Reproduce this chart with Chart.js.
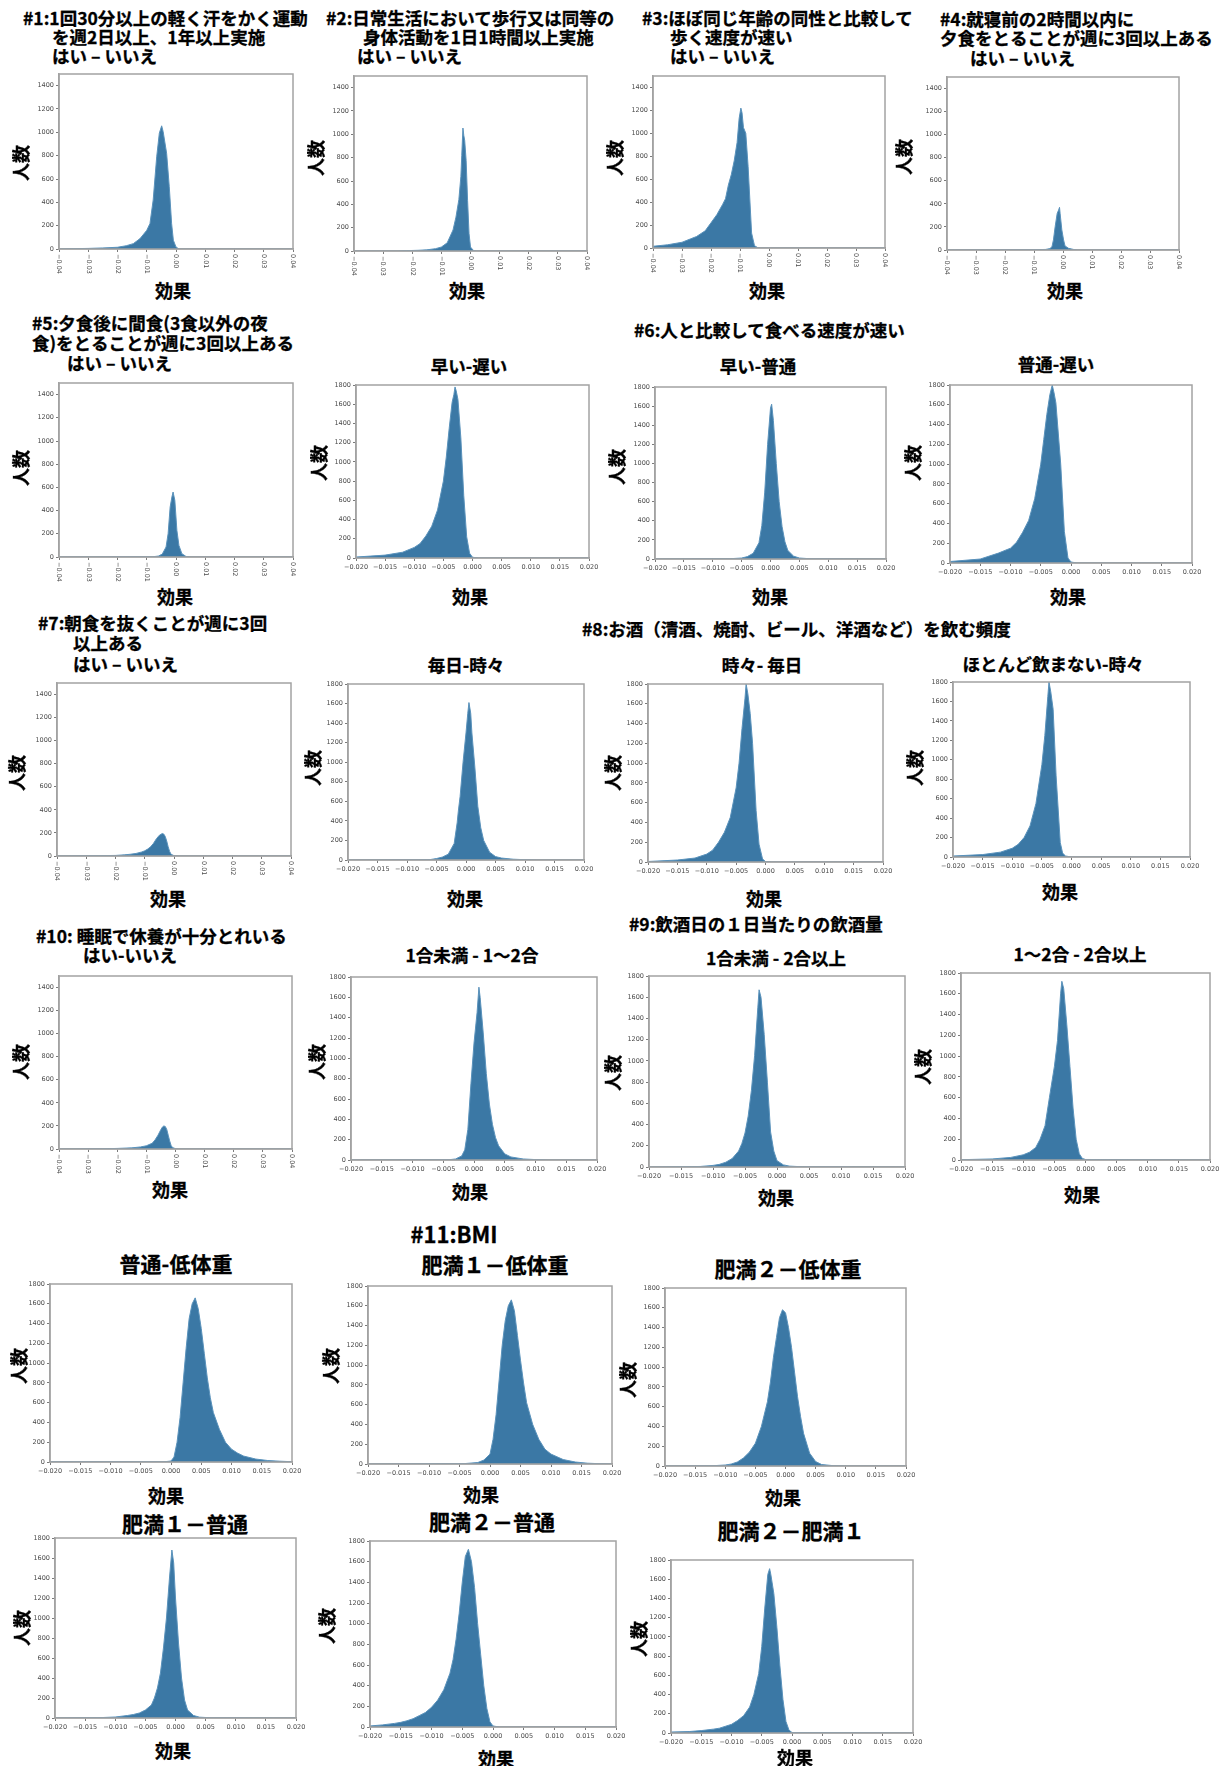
<!DOCTYPE html>
<html lang="ja">
<head>
<meta charset="utf-8">
<title>効果の分布</title>
<script src="https://cdn.jsdelivr.net/npm/chart.js@4.4.1/dist/chart.umd.min.js"></script>
<style>
  html, body { margin: 0; background: #fff; }
  #page {
    position: relative; width: 1227px; height: 1766px; overflow: hidden;
    font-family: "Noto Sans CJK JP", "Noto Sans", sans-serif; font-weight: 700; color: #000;
  }
  #page canvas { position: absolute; }
  .txt { position: absolute; white-space: nowrap; line-height: 1; -webkit-text-stroke: 0.3px #000; }
</style>
</head>
<body>
<div id="page"></div>
<script>
/* 効果（x）の目盛り */
const X_TICKS_WIDE = [-0.04, -0.03, -0.02, -0.01, 0, 0.01, 0.02, 0.03, 0.04];
const X_LABELS_WIDE = ["−0.04", "−0.03", "−0.02", "−0.01", "0.00", "0.01", "0.02", "0.03", "0.04"];
const X_TICKS_NARROW = [-0.02, -0.015, -0.01, -0.005, 0, 0.005, 0.01, 0.015, 0.02];
const X_LABELS_NARROW = ["−0.020", "−0.015", "−0.010", "−0.005", "0.000", "0.005", "0.010", "0.015", "0.020"];
/* 人数（y）の目盛り */
const Y_TICKS_1500 = [0, 200, 400, 600, 800, 1000, 1200, 1400];
const Y_TICKS_1800 = [0, 200, 400, 600, 800, 1000, 1200, 1400, 1600, 1800];

/* 各分布：効果の値と人数 */
// #1 運動習慣
const q1X = [-0.040, -0.035, -0.030, -0.025, -0.020, -0.017, -0.0146, -0.0123, -0.0100, -0.0089, -0.0078, -0.0066, -0.0057, -0.0049, -0.0044, -0.0032, -0.0023, -0.0015, -0.0009, 0.000, 0.001, 0.040];
const q1Y = [0, 3, 5, 9, 15, 28, 46, 89, 160, 218, 420, 790, 993, 1056, 1007, 820, 534, 218, 75, 17, 0, 0];
// #2 歩行
const q2X = [-0.040, -0.025, -0.022, -0.018, -0.015, -0.012, -0.010, -0.008, -0.006, -0.005, -0.004, -0.0033, -0.003, -0.0026, -0.0023, -0.002, -0.0015, -0.001, -0.0005, 0.000, 0.001, 0.002, 0.040];
const q2Y = [0, 0, 3, 6, 10, 20, 34, 70, 180, 290, 440, 640, 820, 1054, 990, 949, 777, 434, 149, 34, 5, 0, 0];
// #3 歩く速度
const q3X = [-0.040, -0.035, -0.030, -0.027, -0.025, -0.022, -0.020, -0.018, -0.016, -0.015, -0.014, -0.013, -0.012, -0.011, -0.0103, -0.0097, -0.0093, -0.0088, -0.008, -0.0072, -0.006, -0.005, -0.004, -0.003, 0.040];
const q3Y = [15, 28, 50, 80, 100, 150, 220, 290, 380, 430, 550, 640, 760, 920, 1130, 1220, 1180, 1050, 1000, 710, 130, 20, 5, 0, 0];
// #4 就寝前の夕食
const q4X = [-0.040, -0.010, -0.006, -0.0045, -0.0038, -0.0033, -0.0027, -0.002, -0.0015, -0.0012, -0.001, -0.0004, 0.0002, 0.0007, 0.0019, 0.0036, 0.005, 0.040];
const q4Y = [0, 2, 5, 12, 29, 87, 203, 318, 347, 370, 318, 174, 87, 35, 15, 5, 0, 0];
// #5 夕食後の間食
const q5X = [-0.040, -0.008, -0.006, -0.0047, -0.0034, -0.0027, -0.002, -0.0014, -0.001, -0.0004, 0.0003, 0.001, 0.002, 0.0034, 0.005, 0.040];
const q5Y = [0, 2, 8, 25, 86, 200, 431, 517, 560, 489, 230, 100, 29, 5, 0, 0];
// #6 食べる速度
const q6aX = [-0.020, -0.015, -0.012, -0.010, -0.009, -0.008, -0.007, -0.006, -0.005, -0.0045, -0.004, -0.0035, -0.0032, -0.003, -0.0028, -0.0025, -0.002, -0.0015, -0.001, -0.0005, 0.000, 0.001, 0.020];
const q6aY = [10, 30, 60, 110, 150, 230, 330, 500, 800, 1050, 1350, 1620, 1700, 1780, 1740, 1650, 1250, 650, 220, 50, 8, 0, 0];
const q6bX = [-0.020, -0.007, -0.005, -0.004, -0.003, -0.002, -0.0015, -0.001, -0.0005, 0.000, 0.0002, 0.0005, 0.001, 0.0015, 0.002, 0.0025, 0.003, 0.004, 0.005, 0.007, 0.020];
const q6bY = [0, 3, 10, 25, 60, 170, 350, 700, 1200, 1580, 1620, 1450, 1000, 600, 340, 180, 90, 30, 10, 2, 0];
const q6cX = [-0.020, -0.015, -0.012, -0.010, -0.009, -0.008, -0.007, -0.006, -0.005, -0.0045, -0.004, -0.0035, -0.0031, -0.0028, -0.0025, -0.0017, -0.0011, -0.0005, 0.000, 0.001, 0.020];
const q6cY = [15, 40, 100, 150, 210, 310, 430, 650, 1000, 1250, 1500, 1700, 1800, 1720, 1620, 1000, 320, 50, 10, 0, 0];
// #7 朝食を抜く
const q7X = [-0.040, -0.030, -0.025, -0.020, -0.017, -0.015, -0.013, -0.011, -0.010, -0.009, -0.008, -0.007, -0.006, -0.005, -0.004, -0.0035, -0.003, -0.0025, -0.002, -0.0015, -0.001, 0.000, 0.001, 0.040];
const q7Y = [0, 2, 3, 5, 10, 15, 22, 35, 45, 60, 80, 110, 150, 180, 195, 190, 170, 130, 80, 40, 15, 3, 0, 0];
// #8 飲酒頻度
const q8aX = [-0.020, -0.008, -0.006, -0.005, -0.004, -0.003, -0.002, -0.0015, -0.0013, -0.001, -0.0005, 0.000, 0.0003, 0.0005, 0.0008, 0.001, 0.0015, 0.002, 0.0025, 0.003, 0.004, 0.005, 0.006, 0.008, 0.010, 0.012, 0.020];
const q8aY = [0, 2, 5, 15, 30, 60, 170, 380, 500, 650, 1000, 1300, 1500, 1610, 1500, 1300, 950, 550, 330, 200, 80, 35, 20, 8, 3, 0, 0];
const q8bX = [-0.020, -0.015, -0.012, -0.010, -0.009, -0.008, -0.007, -0.006, -0.005, -0.0045, -0.004, -0.0035, -0.0033, -0.003, -0.0026, -0.0022, -0.0016, -0.0011, -0.0005, 0.000, 0.001, 0.020];
const q8bY = [5, 20, 40, 80, 120, 200, 300, 450, 750, 1000, 1350, 1650, 1800, 1700, 1500, 1200, 520, 180, 30, 5, 0, 0];
const q8cX = [-0.020, -0.015, -0.012, -0.010, -0.009, -0.008, -0.007, -0.006, -0.005, -0.0045, -0.004, -0.0038, -0.0035, -0.0031, -0.0026, -0.0019, -0.0015, -0.001, 0.000, 0.020];
const q8cY = [10, 25, 50, 90, 130, 200, 320, 550, 950, 1250, 1650, 1800, 1700, 1520, 835, 150, 40, 10, 0, 0];
// #10 睡眠
const q10X = [-0.040, -0.025, -0.020, -0.015, -0.012, -0.010, -0.008, -0.007, -0.006, -0.005, -0.0045, -0.004, -0.0035, -0.003, -0.0025, -0.002, -0.0015, -0.001, 0.000, 0.001, 0.040];
const q10Y = [0, 2, 5, 10, 18, 28, 50, 80, 120, 170, 190, 200, 195, 170, 120, 70, 30, 12, 3, 0, 0];
// #9 飲酒量
const q9aX = [-0.020, -0.004, -0.003, -0.002, -0.0015, -0.001, -0.0005, 0.000, 0.0005, 0.0008, 0.001, 0.0015, 0.002, 0.0025, 0.003, 0.0035, 0.004, 0.005, 0.006, 0.008, 0.010, 0.012, 0.020];
const q9aY = [0, 3, 10, 40, 100, 300, 750, 1150, 1450, 1700, 1600, 1250, 850, 550, 350, 220, 140, 60, 30, 10, 4, 0, 0];
const q9bX = [-0.020, -0.012, -0.010, -0.009, -0.008, -0.007, -0.006, -0.0055, -0.005, -0.0045, -0.004, -0.0035, -0.003, -0.0028, -0.0025, -0.002, -0.0015, -0.001, -0.0005, 0.000, 0.001, 0.002, 0.004, 0.020];
const q9bY = [0, 5, 15, 25, 45, 80, 150, 220, 320, 480, 720, 1050, 1500, 1670, 1600, 1250, 800, 330, 150, 60, 20, 8, 2, 0];
const q9cX = [-0.020, -0.015, -0.012, -0.010, -0.009, -0.008, -0.0073, -0.0065, -0.0058, -0.005, -0.0045, -0.004, -0.0038, -0.0035, -0.003, -0.0025, -0.002, -0.0015, -0.001, -0.0005, 0.000, 0.020];
const q9cY = [3, 10, 25, 50, 75, 120, 200, 330, 600, 900, 1150, 1600, 1720, 1650, 1300, 900, 500, 200, 60, 15, 5, 0];
// #11 BMI
const bmiAX = [-0.020, -0.001, 0.000, 0.0005, 0.001, 0.0015, 0.002, 0.0025, 0.003, 0.0035, 0.004, 0.0045, 0.005, 0.0055, 0.006, 0.0065, 0.007, 0.008, 0.009, 0.010, 0.011, 0.012, 0.014, 0.016, 0.018, 0.020];
const bmiAY = [3, 3, 10, 50, 200, 450, 800, 1150, 1450, 1600, 1660, 1550, 1350, 1100, 850, 650, 500, 330, 200, 130, 90, 60, 30, 15, 8, 3];
const bmiBX = [-0.020, -0.004, -0.002, -0.001, 0.000, 0.0005, 0.001, 0.0015, 0.002, 0.0025, 0.003, 0.0035, 0.004, 0.0045, 0.005, 0.0055, 0.006, 0.007, 0.008, 0.009, 0.010, 0.012, 0.014, 0.016, 0.018, 0.020];
const bmiBY = [0, 5, 15, 40, 100, 250, 500, 850, 1200, 1450, 1600, 1660, 1550, 1300, 1050, 820, 620, 400, 250, 150, 100, 45, 20, 8, 3, 1];
const bmiCX = [-0.020, -0.012, -0.010, -0.009, -0.008, -0.007, -0.006, -0.005, -0.004, -0.003, -0.0025, -0.002, -0.0015, -0.001, -0.0005, 0.000, 0.0005, 0.001, 0.0015, 0.002, 0.0025, 0.003, 0.004, 0.005, 0.006, 0.008, 0.010, 0.020];
const bmiCY = [0, 3, 10, 20, 40, 80, 140, 230, 400, 650, 850, 1100, 1300, 1500, 1580, 1550, 1400, 1200, 950, 700, 500, 330, 130, 45, 15, 3, 0, 0];
const bmiDX = [-0.020, -0.012, -0.010, -0.008, -0.007, -0.006, -0.005, -0.004, -0.0035, -0.003, -0.0025, -0.002, -0.0015, -0.001, -0.0006, -0.0003, 0.000, 0.0005, 0.001, 0.0015, 0.002, 0.003, 0.004, 0.006, 0.020];
const bmiDY = [0, 5, 10, 25, 35, 50, 80, 130, 200, 300, 450, 700, 1000, 1400, 1680, 1550, 1200, 750, 400, 180, 80, 25, 8, 2, 0];
const bmiEX = [-0.020, -0.018, -0.016, -0.015, -0.014, -0.013, -0.012, -0.011, -0.010, -0.009, -0.008, -0.007, -0.0065, -0.006, -0.0055, -0.005, -0.0045, -0.004, -0.0035, -0.003, -0.0025, -0.002, -0.0015, -0.001, -0.0005, 0.000, 0.001, 0.020];
const bmiEY = [10, 20, 35, 45, 60, 80, 110, 140, 190, 260, 360, 520, 650, 850, 1100, 1400, 1650, 1720, 1600, 1350, 1000, 700, 400, 180, 50, 10, 0, 0];
const bmiFX = [-0.020, -0.017, -0.015, -0.013, -0.012, -0.011, -0.010, -0.009, -0.008, -0.007, -0.0063, -0.0055, -0.005, -0.0045, -0.004, -0.0037, -0.0035, -0.003, -0.0025, -0.002, -0.0015, -0.001, -0.0005, 0.000, 0.020];
const bmiFY = [10, 15, 25, 40, 50, 70, 90, 130, 180, 270, 400, 620, 900, 1300, 1650, 1710, 1650, 1450, 1100, 700, 350, 120, 30, 5, 0];

/* 見た目 */
const BAR_FILL = "#3b78a5";
const BAR_EDGE = "#5a92bb";
const FRAME_COLOR = "#a3a3a3";
const TICK_TEXT = "#4a4a4a";
const TICK_MARK = "#7a7a7a";
const TICK_FONT = { family: '"DejaVu Sans", sans-serif', size: 6.5 };
const YW = 28, PT = 6, PR = 14, XH_WIDE = 26, XH_NARROW = 14;

// box = [左, 上, 右, 下] of the plot frame, xl = 「効果」, yl = 「人数」
const PANELS = [
  { x: q1X, y: q1Y, wide: true, ymax: 1500, box: [59, 74, 293, 249], xl: [173, 290], yl: [20, 163] },
  { x: q2X, y: q2Y, wide: true, ymax: 1500, box: [354, 76, 587, 251], xl: [467, 290], yl: [315, 158] },
  { x: q3X, y: q3Y, wide: true, ymax: 1500, box: [653, 76, 885, 248], xl: [767, 290], yl: [614, 158] },
  { x: q4X, y: q4Y, wide: true, ymax: 1500, box: [947, 77, 1179, 250], xl: [1065, 290], yl: [903, 157] },
  { x: q5X, y: q5Y, wide: true, ymax: 1500, box: [59, 383, 293, 557], xl: [175, 596], yl: [20, 468] },
  { x: q6aX, y: q6aY, wide: false, ymax: 1800, box: [356, 385, 589, 558], xl: [470, 596], yl: [318, 463] },
  { x: q6bX, y: q6bY, wide: false, ymax: 1800, box: [655, 387, 886, 559], xl: [770, 596], yl: [616, 467] },
  { x: q6cX, y: q6cY, wide: false, ymax: 1800, box: [950, 385, 1192, 563], xl: [1068, 596], yl: [912, 463] },
  { x: q7X, y: q7Y, wide: true, ymax: 1500, box: [57, 683, 291, 856], xl: [168, 898], yl: [16, 773] },
  { x: q8aX, y: q8aY, wide: false, ymax: 1800, box: [348, 684, 584, 860], xl: [465, 898], yl: [312, 768] },
  { x: q8bX, y: q8bY, wide: false, ymax: 1800, box: [648, 684, 883, 862], xl: [764, 898], yl: [612, 773] },
  { x: q8cX, y: q8cY, wide: false, ymax: 1800, box: [953, 682, 1190, 857], xl: [1060, 891], yl: [914, 768] },
  { x: q10X, y: q10Y, wide: true, ymax: 1500, box: [59, 976, 292, 1149], xl: [170, 1189], yl: [20, 1062] },
  { x: q9aX, y: q9aY, wide: false, ymax: 1800, box: [351, 977, 597, 1160], xl: [470, 1191], yl: [316, 1062] },
  { x: q9bX, y: q9bY, wide: false, ymax: 1800, box: [649, 976, 905, 1167], xl: [776, 1197], yl: [612, 1073] },
  { x: q9cX, y: q9cY, wide: false, ymax: 1800, box: [961, 973, 1210, 1160], xl: [1082, 1194], yl: [922, 1067] },
  { x: bmiAX, y: bmiAY, wide: false, ymax: 1800, box: [50, 1284, 292, 1462], xl: [166, 1495], yl: [18, 1366] },
  { x: bmiBX, y: bmiBY, wide: false, ymax: 1800, box: [368, 1286, 612, 1464], xl: [481, 1494], yl: [330, 1366] },
  { x: bmiCX, y: bmiCY, wide: false, ymax: 1800, box: [665, 1288, 906, 1466], xl: [783, 1497], yl: [627, 1380] },
  { x: bmiDX, y: bmiDY, wide: false, ymax: 1800, box: [55, 1538, 296, 1718], xl: [173, 1750], yl: [21, 1628] },
  { x: bmiEX, y: bmiEY, wide: false, ymax: 1800, box: [370, 1541, 616, 1727], xl: [496, 1758], yl: [326, 1626] },
  { x: bmiFX, y: bmiFY, wide: false, ymax: 1800, box: [671, 1560, 913, 1733], xl: [795, 1757], yl: [638, 1639] },
];

// [文字, x, y, サイズ, 配置]
const TITLES = [
  ["#1:1回30分以上の軽く汗をかく運動", 23, 18, 17.5, "left"],
  ["を週2日以上、1年以上実施", 52, 37, 17.5, "left"],
  ["はい – いいえ", 52, 56, 17.5, "left"],
  ["#2:日常生活において歩行又は同等の", 326, 18, 17.5, "left"],
  ["身体活動を1日1時間以上実施", 363, 37, 17.5, "left"],
  ["はい – いいえ", 357, 56, 17.5, "left"],
  ["#3:ほぼ同じ年齢の同性と比較して", 642, 18, 17.5, "left"],
  ["歩く速度が速い", 670, 37, 17.5, "left"],
  ["はい – いいえ", 670, 56, 17.5, "left"],
  ["#4:就寝前の2時間以内に", 940, 19, 17.5, "left"],
  ["夕食をとることが週に3回以上ある", 940, 38, 17.5, "left"],
  ["はい – いいえ", 970, 58, 17.5, "left"],
  ["#5:夕食後に間食(3食以外の夜", 32, 323, 17.5, "left"],
  ["食)をとることが週に3回以上ある", 32, 343, 17.5, "left"],
  ["はい – いいえ", 67, 363, 17.5, "left"],
  ["#6:人と比較して食べる速度が速い", 634, 330, 17.5, "left"],
  ["早い-遅い", 469, 366, 17.5, "center"],
  ["早い-普通", 758, 366, 17.5, "center"],
  ["普通-遅い", 1056, 364, 17.5, "center"],
  ["#7:朝食を抜くことが週に3回", 38, 623, 17.5, "left"],
  ["以上ある", 73, 643, 17.5, "left"],
  ["はい – いいえ", 73, 664, 17.5, "left"],
  ["#8:お酒（清酒、焼酎、ビール、洋酒など）を飲む頻度", 582, 629, 17.5, "left"],
  ["毎日-時々", 466, 665, 17.5, "center"],
  ["時々- 毎日", 762, 665, 17.5, "center"],
  ["ほとんど飲まない-時々", 1053, 664, 17.5, "center"],
  ["#10: 睡眠で休養が十分とれいる", 36, 936, 17.5, "left"],
  ["はい-いいえ", 83, 955, 17.5, "left"],
  ["#9:飲酒日の１日当たりの飲酒量", 629, 924, 17.5, "left"],
  ["1合未満 - 1～2合", 472, 955, 17.5, "center"],
  ["1合未満 - 2合以上", 776, 958, 17.5, "center"],
  ["1～2合 - 2合以上", 1080, 954, 17.5, "center"],
  ["#11:BMI", 454, 1233, 22, "center"],
  ["普通-低体重", 176, 1263, 21, "center"],
  ["肥満１－低体重", 495, 1264, 21, "center"],
  ["肥満２－低体重", 788, 1268, 21, "center"],
  ["肥満１－普通", 185, 1523, 21, "center"],
  ["肥満２－普通", 492, 1521, 21, "center"],
  ["肥満２－肥満１", 791, 1530, 21, "center"],
];

const page = document.getElementById("page");

function addText(text, x, y, size, mode) {
  const el = document.createElement("div");
  el.className = "txt";
  el.textContent = text;
  el.style.left = x + "px";
  el.style.top = y + "px";
  el.style.fontSize = size + "px";
  el.style.transform = mode === "left" ? "translateY(-50%)"
    : mode === "vert" ? "translate(-50%,-50%) rotate(-90deg)"
    : "translate(-50%,-50%)";
  page.appendChild(el);
}

// matplotlib風の四方の枠
const framePlugin = {
  id: "frame",
  afterDatasetsDraw(chart) {
    const { ctx, chartArea: a } = chart;
    ctx.save();
    ctx.strokeStyle = FRAME_COLOR;
    ctx.lineWidth = 1.5;
    ctx.strokeRect(a.left, a.top, a.right - a.left, a.bottom - a.top);
    ctx.restore();
  },
};

// ±0.04 の軸は時計回りに90°回した目盛り文字
const cwTicksPlugin = {
  id: "cwTicks",
  afterDraw(chart, args, opts) {
    if (!opts.labels) return;
    const sx = chart.scales.x;
    const ctx = chart.ctx;
    ctx.save();
    ctx.font = TICK_FONT.size + "px " + TICK_FONT.family;
    ctx.fillStyle = TICK_TEXT;
    ctx.textAlign = "left";
    ctx.textBaseline = "middle";
    sx.ticks.forEach((t, i) => {
      ctx.save();
      ctx.translate(sx.getPixelForValue(t.value), chart.chartArea.bottom + 5);
      ctx.rotate(Math.PI / 2);
      ctx.fillText(opts.labels[i], 0, 0);
      ctx.restore();
    });
    ctx.restore();
  },
};

function makeChart(p) {
  const [L, T, R, B] = p.box;
  const xh = p.wide ? XH_WIDE : XH_NARROW;
  const w = R - L + YW + PR;
  const h = B - T + PT + xh;
  const cv = document.createElement("canvas");
  cv.width = w;
  cv.height = h;
  cv.style.left = (L - YW) + "px";
  cv.style.top = (T - PT) + "px";
  cv.style.width = w + "px";
  cv.style.height = h + "px";
  page.appendChild(cv);

  const xTicks = p.wide ? X_TICKS_WIDE : X_TICKS_NARROW;
  const xLabels = p.wide ? X_LABELS_WIDE : X_LABELS_NARROW;
  const yTicks = p.ymax === 1500 ? Y_TICKS_1500 : Y_TICKS_1800;

  new Chart(cv, {
    type: "line",
    data: {
      datasets: [{
        data: p.x.map((v, i) => ({ x: v, y: p.y[i] })),
        fill: "origin",
        backgroundColor: BAR_FILL,
        borderColor: BAR_EDGE,
        borderWidth: 1,
        pointRadius: 0,
        tension: 0,
      }],
    },
    options: {
      responsive: false,
      maintainAspectRatio: false,
      animation: false,
      events: [],
      layout: { autoPadding: false, padding: { top: PT, right: PR, left: 0, bottom: 0 } },
      plugins: {
        legend: { display: false },
        tooltip: { enabled: false },
        cwTicks: { labels: p.wide ? xLabels : null },
      },
      scales: {
        x: {
          type: "linear",
          min: xTicks[0],
          max: xTicks[xTicks.length - 1],
          afterBuildTicks: (s) => { s.ticks = xTicks.map((v) => ({ value: v })); },
          afterFit: (s) => { s.height = xh; },
          ticks: {
            display: !p.wide,
            autoSkip: false,
            maxRotation: 0,
            minRotation: 0,
            padding: 2,
            font: TICK_FONT,
            color: TICK_TEXT,
            callback: (v, i) => xLabels[i],
          },
          grid: { drawOnChartArea: false, drawTicks: true, tickLength: 3, color: TICK_MARK },
          border: { display: true, color: FRAME_COLOR, width: 1.5 },
        },
        y: {
          min: 0,
          max: p.ymax,
          afterBuildTicks: (s) => { s.ticks = yTicks.map((v) => ({ value: v })); },
          afterFit: (s) => { s.width = YW; },
          ticks: {
            autoSkip: false,
            padding: 2,
            font: TICK_FONT,
            color: TICK_TEXT,
            callback: (v) => String(v),
          },
          grid: { drawOnChartArea: false, drawTicks: true, tickLength: 3, color: TICK_MARK },
          border: { display: true, color: FRAME_COLOR, width: 1.5 },
        },
      },
    },
    plugins: [framePlugin, cwTicksPlugin],
  });

  addText("効果", p.xl[0], p.xl[1], 18, "center");
  addText("人数", p.yl[0], p.yl[1], 18, "vert");
}

TITLES.forEach(([t, x, y, s, m]) => addText(t, x, y, s, m));
PANELS.forEach(makeChart);
</script>
</body>
</html>
